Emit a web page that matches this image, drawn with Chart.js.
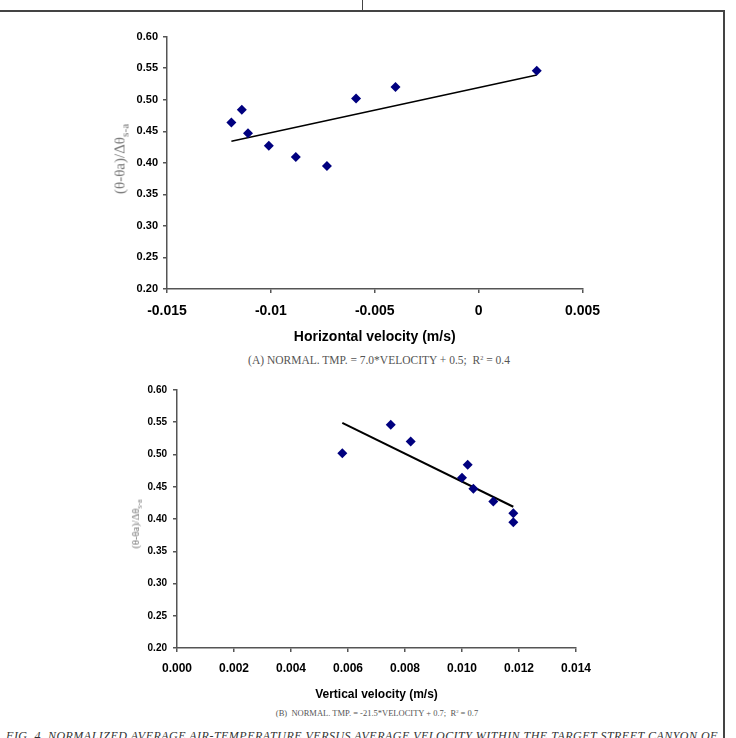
<!DOCTYPE html>
<html>
<head>
<meta charset="utf-8">
<script src="https://cdn.jsdelivr.net/npm/chart.js@4.4.1/dist/chart.umd.min.js"></script>
<style>
  html, body { margin: 0; padding: 0; background: #fff; }
  body { width: 736px; height: 738px; position: relative; overflow: hidden; }
  .box { position: absolute; }
  .rule { position: absolute; background: #444; }
  .ytitle {
    position: absolute; white-space: nowrap; color: #777;
    font-family: "Liberation Serif", "Times New Roman", serif;
    transform: translate(-50%, -50%) rotate(-90deg);
  }
  .ytitle sub { font-size: 75%; }
  .cap {
    position: absolute; white-space: nowrap; color: #555;
    font-family: "Liberation Serif", "Times New Roman", serif;
    transform: translate(-50%, -50%);
  }
  .cap sup { font-size: 55%; vertical-align: 60%; }
  .fig {
    position: absolute; left: 0; width: 724px; text-align: center; top: 729px;
    font-family: "Liberation Serif", "Times New Roman", serif; font-style: italic;
    font-size: 12px; color: #333; white-space: nowrap; letter-spacing: 0.48px;
  }
</style>
</head>
<body>
  <!-- page frame -->
  <div class="rule" style="left:0; top:10px; width:725px; height:2px;"></div>
  <div class="rule" style="left:362px; top:0; width:1px; height:11px;"></div>
  <div class="rule" style="left:723px; top:10px; width:2px; height:728px;"></div>

  <div class="box" style="left:100px; top:25px; width:510px; height:325px;"><canvas id="chartA"></canvas></div>
  <div class="ytitle" style="left:121px; top:159px; font-size:15px;">(θ-θa)/Δθ<sub>s-a</sub></div>
  <div class="cap" style="left:379px; top:360px; font-size:11.5px;">(A) NORMAL. TMP. = 7.0*VELOCITY + 0.5;&nbsp; R<sup>2</sup> = 0.4</div>

  <div class="box" style="left:100px; top:378px; width:500px; height:324px;"><canvas id="chartB"></canvas></div>
  <div class="ytitle" style="left:137px; top:524px; font-size:10.5px;">(θ-θa)/Δθ<sub>s-a</sub></div>
  <div class="cap" style="left:377px; top:713px; font-size:8.5px;">(B)&nbsp; NORMAL. TMP. = -21.5*VELOCITY + 0.7;&nbsp; R<sup>2</sup> = 0.7</div>

  <div class="fig">FIG. 4. NORMALIZED AVERAGE AIR-TEMPERATURE VERSUS AVERAGE VELOCITY WITHIN THE TARGET STREET CANYON OF</div>

<script>
// normalized temperature, same 9 measurements in both panels
const normTemp = [0.464, 0.484, 0.447, 0.427, 0.409, 0.395, 0.502, 0.520, 0.546];
const horizVel = [-0.0119, -0.0114, -0.0111, -0.0101, -0.0088, -0.0073, -0.0059, -0.0040, 0.0028];
const vertVel  = [0.0100, 0.0102, 0.0104, 0.0111, 0.0118, 0.0118, 0.0058, 0.0082, 0.0075];

// regression lines (end points)
const fitAx = [-0.0119, 0.0028];
const fitAy = [0.434, 0.539];
const fitBx = [0.0058, 0.0118];
const fitBy = [0.549, 0.419];

// ticks
const yTickVals = [0.20, 0.25, 0.30, 0.35, 0.40, 0.45, 0.50, 0.55, 0.60];
const yTickLabels = ['0.20', '0.25', '0.30', '0.35', '0.40', '0.45', '0.50', '0.55', '0.60'];
const xTickValsA = [-0.015, -0.01, -0.005, 0, 0.005];
const xTickLabelsA = ['-0.015', '-0.01', '-0.005', '0', '0.005'];
const xTickValsB = [0, 0.002, 0.004, 0.006, 0.008, 0.010, 0.012, 0.014];
const xTickLabelsB = ['0.000', '0.002', '0.004', '0.006', '0.008', '0.010', '0.012', '0.014'];

const NAVY = '#00007f';
const AXIS = '#555';
const FONT = '"Liberation Sans", Arial, sans-serif';

function toPoints(xs, ys) {
  return xs.map((x, i) => ({ x: x, y: ys[i] }));
}

function makeChart(id, cfg) {
  return new Chart(document.getElementById(id), {
    type: 'scatter',
    data: {
      datasets: [
        {
          data: toPoints(cfg.xs, normTemp),
          pointStyle: 'rectRot',
          pointRadius: cfg.markR,
          backgroundColor: NAVY,
          borderColor: NAVY,
          borderWidth: 0,
        },
        {
          data: toPoints(cfg.fitX, cfg.fitY),
          showLine: true,
          pointRadius: 0,
          borderColor: '#000',
          borderWidth: cfg.lineW,
          fill: false,
        },
      ],
    },
    options: {
      responsive: true,
      maintainAspectRatio: false,
      animation: false,
      devicePixelRatio: 1,
      layout: { padding: { top: cfg.padTop, right: cfg.padRight, left: 0, bottom: 0 } },
      plugins: { legend: { display: false }, tooltip: { enabled: false } },
      scales: {
        x: {
          type: 'linear',
          min: cfg.xTicks[0],
          max: cfg.xTicks[cfg.xTicks.length - 1],
          afterBuildTicks: (s) => { s.ticks = cfg.xTicks.map(v => ({ value: v })); },
          afterFit: (s) => { s.height = cfg.xHeight; },
          grid: { drawOnChartArea: false, drawTicks: true, tickLength: 4, color: AXIS, lineWidth: 1.5 },
          border: { color: AXIS, width: 1.5 },
          ticks: {
            padding: cfg.xPad,
            maxRotation: 0,
            autoSkip: false,
            color: '#000',
            font: { family: FONT, size: cfg.xFont, weight: 'bold' },
            callback: (v, i) => cfg.xLabels[i],
          },
          title: {
            display: true,
            text: cfg.title,
            color: '#000',
            font: { family: FONT, size: cfg.titleFont, weight: 'bold' },
            padding: { top: 0, bottom: cfg.titlePad },
          },
        },
        y: {
          min: 0.2,
          max: 0.6,
          afterBuildTicks: (s) => { s.ticks = yTickVals.map(v => ({ value: v })); },
          afterFit: (s) => { s.width = cfg.yWidth; },
          grid: { drawOnChartArea: false, drawTicks: true, tickLength: 4, color: AXIS, lineWidth: 1.5 },
          border: { color: AXIS, width: 1.5 },
          ticks: {
            padding: cfg.yPad,
            autoSkip: false,
            color: '#000',
            font: { family: FONT, size: cfg.yFont, weight: 'bold' },
            callback: (v, i) => yTickLabels[i],
          },
        },
      },
    },
  });
}

makeChart('chartA', {
  xs: horizVel, fitX: fitAx, fitY: fitAy, xTicks: xTickValsA, xLabels: xTickLabelsA,
  title: 'Horizontal velocity (m/s)', markR: 5, lineW: 1.5,
  padTop: 10, padRight: 21, yWidth: 67, xHeight: 61,
  xPad: 10, yPad: 5, xFont: 14, yFont: 11, titleFont: 14, titlePad: 4,
});

makeChart('chartB', {
  xs: vertVel, fitX: fitBx, fitY: fitBy, xTicks: xTickValsB, xLabels: xTickLabelsB,
  title: 'Vertical velocity (m/s)', markR: 5, lineW: 2,
  padTop: 11, padRight: 21, yWidth: 77, xHeight: 54,
  xPad: 9, yPad: 6, xFont: 12, yFont: 10, titleFont: 12, titlePad: 0,
});
</script>
</body>
</html>
